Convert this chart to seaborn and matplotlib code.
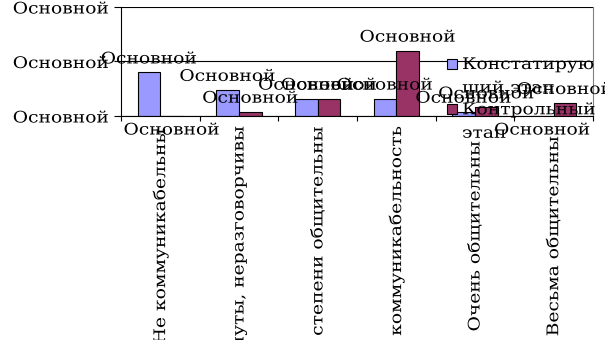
import numpy as np
import pandas as pd
import matplotlib
matplotlib.use("Agg")
import matplotlib.pyplot as plt
import seaborn as sns
from matplotlib.patches import Rectangle
from matplotlib.legend_handler import HandlerPatch
from matplotlib.transforms import ScaledTranslation, Affine2D
from matplotlib.patheffects import AbstractPathEffect

categories = ["Не коммуникабельны", "Замкнуты, неразговорчивы",
              "В средней степени общительны", "Нормальная коммуникабельность",
              "Очень общительны", "Весьма общительны"]
series = ["Констатирующий этап", "Контрольный этап"]
legend_labels = ["Констатирую\nщий этап", "Контрольный\nэтап"]
stage1 = [40, 24, 16, 16, 4, 0]
stage2 = [0, 4, 16, 60, 8, 12]
y_ticks = [0, 50, 100]
y_tick_labels = ["Основной", "Основной", "Основной"]
value_label = "Основной"
palette = ["#9999FF", "#993366"]

df = pd.DataFrame({
    "cat": categories * 2,
    "series": [series[0]] * len(categories) + [series[1]] * len(categories),
    "value": stage1 + stage2,
})

sns.set_style("white", rc={"axes.edgecolor": "black", "text.color": "black",
                           "xtick.color": "black", "ytick.color": "black"})
plt.rcParams["font.family"] = ["DejaVu Serif"]
FS = 11.5
SX = 1.17  # the reference glyphs are wider than DejaVu Serif


class StretchX(AbstractPathEffect):
    """Widen glyphs along the text baseline, keeping the alignment anchor."""

    def __init__(self, sx, anchor="center"):
        super().__init__((0, 0))
        self._sx = sx
        self._anchor = anchor

    def draw_path(self, renderer, gc, tpath, affine, rgbFace=None):
        ext = tpath.get_extents()
        if self._anchor == "left":
            a = 0.0
        elif self._anchor == "right":
            a = ext.x1
        else:
            a = (ext.x0 + ext.x1) / 2
        tr = Affine2D().translate(-a, 0).scale(self._sx, 1).translate(a, 0) + affine
        renderer.draw_path(gc, tpath, tr, rgbFace)


W, H = 605, 340
fig = plt.figure(figsize=(W / 100, H / 100), dpi=100)
ax = fig.add_axes([121 / W, 1 - 116 / H, (593 - 121) / W, (116 - 7) / H])

sns.barplot(data=df, x="cat", y="value", hue="series", order=categories,
            hue_order=series, palette=palette, width=0.58, saturation=1,
            edgecolor="black", linewidth=0.8, errorbar=None, legend=False, ax=ax)

ax.set_xlim(-0.5, len(categories) - 0.5)
ax.set_ylim(0, 100)
ax.set_yticks(y_ticks)
ax.set_yticklabels(y_tick_labels, fontsize=FS)
ax.set_xticks(range(len(categories)))
ax.set_xticklabels(categories, rotation=90, va="top", ha="center", fontsize=FS)
ax.set_xticks(np.arange(-0.5, len(categories), 1), minor=True)
ax.tick_params(axis="x", which="major", length=0, pad=2)
ax.tick_params(axis="x", which="minor", length=3.5, width=0.8, direction="out", bottom=True)
ax.tick_params(axis="y", which="major", length=5, width=0.8, direction="out", left=True, pad=3.6)
ax.set_xlabel("")
ax.set_ylabel("")

ax.grid(axis="y", color="black", linewidth=0.8)
ax.set_axisbelow(True)
ax.spines["top"].set_visible(False)
ax.spines["right"].set_color("#808080")
for s in ["left", "bottom", "right"]:
    ax.spines[s].set_linewidth(0.8)

for lab in ax.get_yticklabels():
    lab.set_path_effects([StretchX(SX, "right")])

for cont, vals in zip(ax.containers, [stage1, stage2]):
    for bar, v in zip(cont, vals):
        xc = bar.get_x() + bar.get_width() / 2
        off = 9.7 if v > 0 else -10.1
        t = ax.annotate(value_label, (xc, v), xytext=(0, off), textcoords="offset points",
                        ha="center", va="center", fontsize=FS, annotation_clip=False)
        t.set_path_effects([StretchX(SX, "center")])


def top_patch(legend, orig_handle, xdescent, ydescent, width, height, fontsize):
    return Rectangle((-xdescent, -ydescent + 9.6), width, height)


handles = [Rectangle((0, 0), 1, 1, facecolor=c, edgecolor="black", linewidth=0.8)
           for c in palette]
leg = ax.legend(handles, legend_labels, loc="upper left",
                bbox_to_anchor=(447 / W, 1 - 56 / H), bbox_transform=fig.transFigure,
                frameon=False, fontsize=FS, handlelength=0.63, handleheight=0.63,
                handletextpad=0.31, labelspacing=0.3, borderpad=0, borderaxespad=0,
                handler_map={Rectangle: HandlerPatch(patch_func=top_patch)})
for t in leg.get_texts():
    t.set_linespacing(1.5)
    t.set_path_effects([StretchX(SX, "left")])

# Category labels: centred in the label band, or top-aligned when too long
fig.canvas.draw()
band_top, band_bottom = H - 125, H - 347
band = band_top - band_bottom
for lab in ax.get_xticklabels():
    lab.set_path_effects([StretchX(SX, "center")])
    bb = lab.get_window_extent()
    h = bb.height
    hs = h * SX
    c = (bb.y0 + bb.y1) / 2
    desired_c = (band_top + band_bottom) / 2 if hs < band else band_top - hs / 2
    dy = desired_c - c
    lab.set_transform(lab.get_transform() + ScaledTranslation(0, dy / 100, fig.dpi_scale_trans))

fig.savefig("out.png", dpi=100)
